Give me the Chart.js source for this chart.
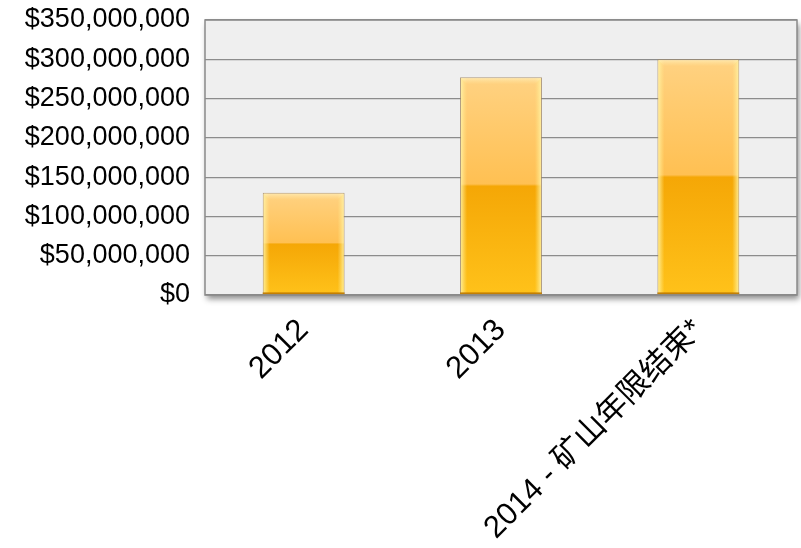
<!DOCTYPE html>
<html>
<head>
<meta charset="utf-8">
<script src="https://cdn.jsdelivr.net/npm/chart.js@4"></script>
<style>
html,body{margin:0;padding:0;background:#fff;}
#wrap{width:801px;height:548px;position:relative;}
</style>
</head>
<body>
<div id="wrap"><canvas id="c" width="801" height="548"></canvas></div>
<script>
const categories = ['2012', '2013', '2014 - 矿山年限结束*'];
const values = [130000000, 277000000, 300000000];
const yMin = 0;
const yMax = 350000000;
const yStep = 50000000;

const FONT = "'Liberation Sans', Arial, 'Noto Sans CJK SC', sans-serif";

function fmtMoney(v){
  return '$' + Math.round(v).toString().replace(/\B(?=(\d{3})+(?!\d))/g, ',');
}

const plotBg = {
  id: 'plotBg',
  beforeDraw(chart){
    const {ctx, chartArea:a} = chart;
    ctx.save();
    ctx.shadowColor = 'rgba(0,0,0,0.45)';
    ctx.shadowBlur = 6;
    ctx.shadowOffsetX = 2;
    ctx.shadowOffsetY = 4;
    ctx.fillStyle = '#efefef';
    ctx.fillRect(a.left, a.top, a.right - a.left, a.bottom - a.top);
    ctx.restore();
  },
  afterDatasetsDraw(chart){
    const {ctx} = chart;
    const meta = chart.getDatasetMeta(0);
    ctx.save();
    meta.data.forEach(bar => {
      const w = bar.width;
      const l = bar.x - w/2, r = bar.x + w/2;
      const t = bar.y, b = bar.base;
      if (![l, r, t, b].every(Number.isFinite)) return;
      const s = 7;
      let g = ctx.createLinearGradient(l, 0, l + s, 0);
      g.addColorStop(0, 'rgba(255,245,170,0.95)');
      g.addColorStop(1, 'rgba(255,235,140,0)');
      ctx.fillStyle = g;
      ctx.fillRect(l + 1, t + 1, s, b - t - 2);
      g = ctx.createLinearGradient(r - s, 0, r, 0);
      g.addColorStop(0, 'rgba(255,235,140,0)');
      g.addColorStop(1, 'rgba(255,245,170,0.95)');
      ctx.fillStyle = g;
      ctx.fillRect(r - s - 1, t + 1, s, b - t - 2);
      g = ctx.createLinearGradient(0, t, 0, t + s);
      g.addColorStop(0, 'rgba(255,240,190,0.8)');
      g.addColorStop(1, 'rgba(255,230,160,0)');
      ctx.fillStyle = g;
      ctx.beginPath();
      ctx.moveTo(l + 1, t + 1);
      ctx.lineTo(r - 1, t + 1);
      ctx.lineTo(r - s, t + s);
      ctx.lineTo(l + s, t + s);
      ctx.closePath();
      ctx.fill();
      ctx.fillStyle = 'rgba(190,120,0,0.9)';
      ctx.fillRect(l, b - 2, w, 2);
    });
    ctx.restore();
  },
  afterDraw(chart){
    const {ctx, chartArea:a} = chart;
    ctx.save();
    ctx.strokeStyle = '#8a8a8a';
    ctx.lineWidth = 1.5;
    ctx.strokeRect(a.left, a.top, a.right - a.left, a.bottom - a.top);
    ctx.restore();
  }
};

new Chart(document.getElementById('c'), {
  type: 'bar',
  data: {
    labels: categories,
    datasets: [{
      data: values,
      backgroundColor(ctx){
        const chart = ctx.chart;
        const ys = chart.scales && chart.scales.y;
        if (!ys || ctx.raw === undefined) return '#ffc040';
        const top = ys.getPixelForValue(ctx.raw);
        const base = ys.getPixelForValue(0);
        if (!Number.isFinite(top) || !Number.isFinite(base) || top === base) return '#ffc040';
        const g = chart.ctx.createLinearGradient(0, top, 0, base);
        g.addColorStop(0, '#ffd282');
        g.addColorStop(0.49, '#ffc052');
        g.addColorStop(0.5, '#f5a706');
        g.addColorStop(1, '#ffc21a');
        return g;
      },
      borderColor: 'rgba(160,135,100,0.85)',
      borderWidth: 1,
      borderSkipped: 'bottom',
      barPercentage: 0.415,
      categoryPercentage: 1.0
    }]
  },
  options: {
    responsive: false,
    animation: false,
    devicePixelRatio: 1,
    layout: { padding: { top: 20, right: 4, left: 0, bottom: 0 } },
    plugins: { legend: { display: false }, tooltip: { enabled: false } },
    scales: {
      x: {
        grid: { display: false, drawTicks: false },
        border: { display: false },
        ticks: {
          color: '#000',
          font: { family: FONT, size: 31 },
          maxRotation: 45,
          minRotation: 45,
          padding: 17,
          autoSkip: false
        },
        afterFit(scale){ scale.height = 253; scale.paddingLeft = 0; scale.paddingRight = 0; }
      },
      y: {
        min: yMin,
        max: yMax,
        grid: { color: '#8c8c8c', lineWidth: 1.2, drawTicks: false },
        border: { display: false },
        ticks: {
          stepSize: yStep,
          color: '#000',
          font: { family: FONT, size: 27 },
          padding: 15,
          callback: v => fmtMoney(v)
        },
        afterFit(scale){ scale.width = 205; scale.paddingTop = 0; scale.paddingBottom = 0; }
      }
    }
  },
  plugins: [plotBg]
});
</script>
</body>
</html>
